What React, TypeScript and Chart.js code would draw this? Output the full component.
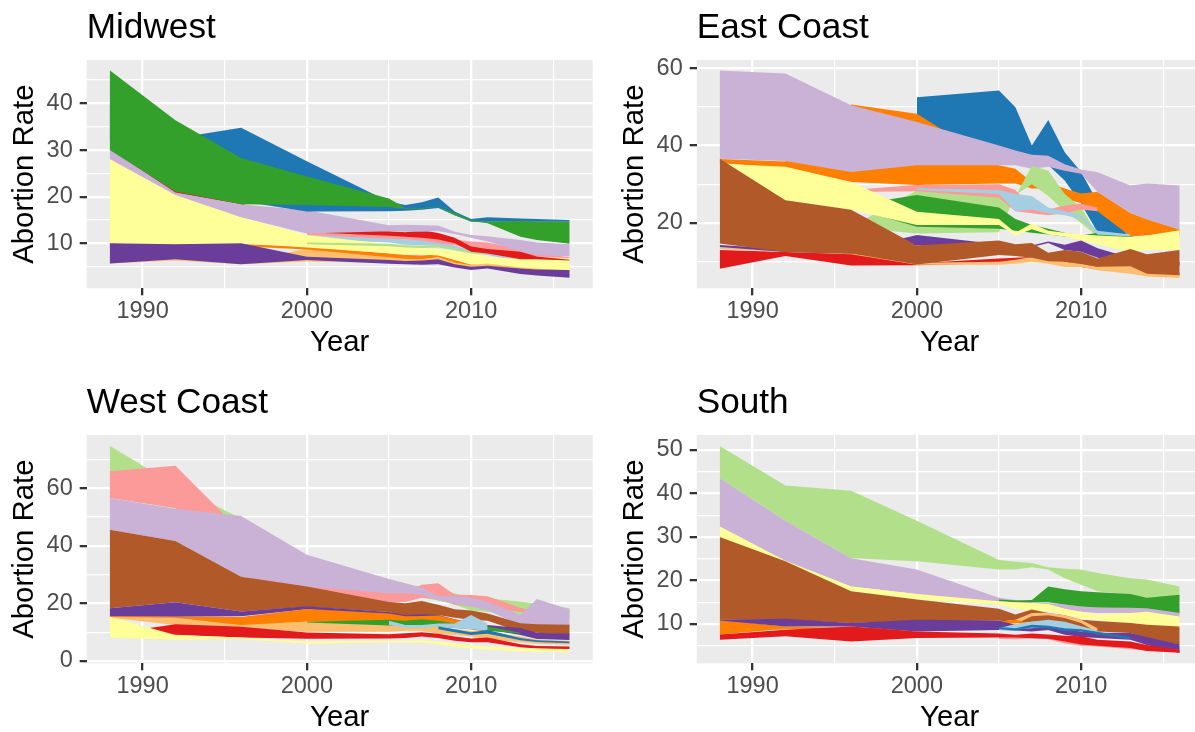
import React, { useEffect, useRef } from "react";
import { Chart, registerables } from "chart.js";

Chart.register(...registerables);

const N = null;

// ---------- shared x data ----------
const YEARS = [1988, 1992, 1996, 2000, 2005, 2006, 2007, 2008, 2009, 2010, 2011, 2013, 2014, 2016];
const X_MAJOR = [1990, 2000, 2010];
const X_MINOR = [1995, 2005, 2015];
const X_LIMITS = [1986.6, 2017.4];

// ---------- Midwest ----------
const MW_LORANGE_HI = [6.1, 7.0, 5.9, 8.9, 7.8, 7.0, 6.6, 6.9, 6.0, 5.9, 6.0, 5.0, 4.8, 4.6];
const MW_LORANGE_LO = [5.7, 6.3, 5.5, 6.1, 5.8, 5.7, 5.8, 6.0, 5.3, 4.8, 4.9, 4.3, 4.2, 4.0];
const MW_ORANGE_HI = [9.9, 9.7, 9.8, 9.3, 7.8, 7.5, 7.4, 7.6, 6.4, 5.8, 6.6, 6.0, 5.5, 5.0];
const MW_ORANGE_LO = [9.5, 9.3, 9.4, 8.7, 7.0, 6.7, 6.6, 7.0, 5.9, 5.3, 6.1, 5.6, 5.1, 4.7];
const MW_LBLUE_HI = [N, N, N, 11.8, 11.2, 10.9, 10.8, 10.6, 9.5, 8.5, 8.0, 6.5, 6.3, 6.0];
const MW_LBLUE_LO = [N, N, N, 11.0, 10.2, 9.7, 9.6, 9.5, 8.8, 7.9, 7.5, 6.0, 5.8, 5.5];
const MW_YELLOW_HI = [28.1, 20.4, 15.6, 11.8, 9.8, 9.2, 9.0, 8.8, 8.3, 7.85, 7.1, 6.6, 6.8, 7.1];
const MW_YELLOW_LO = [10.0, 9.8, 10.0, 9.1, 7.9, 7.6, 7.6, 7.4, 6.4, 5.4, 5.7, 4.8, 4.6, 4.1];
const MW_LGREEN_HI = [N, N, N, 10.2, 9.9, 9.6, 9.5, 9.6, 9.0, 8.2, 8.0, N, N, N];
const MW_LGREEN_LO = [N, N, N, 9.8, 9.4, 9.1, 9.0, 9.1, 8.5, 7.8, 7.6, N, N, N];
const MW_PURPLE_HI = [10.0, 9.8, 10.0, 7.1, 6.4, 6.2, 6.3, 6.6, 5.5, 5.0, 5.2, 4.6, 4.4, 4.3];
const MW_PURPLE_LO = [5.7, 6.6, 5.5, 6.4, 5.6, 5.5, 5.4, 5.5, 4.8, 4.3, 4.6, 3.4, 3.1, 2.6];
const MW_PINK_HI = [N, N, N, 12.4, 11.8, 11.6, 11.4, 11.0, 10.8, 10.4, 10.2, 8.8, 8.0, 7.0];
const MW_PINK_LO = [N, N, N, 11.8, 11.0, 10.9, 10.6, 10.0, 9.6, 8.8, 8.4, 7.5, 7.2, 6.8];
const MW_RED_HI = [30.3, 21.5, 18.6, 13.0, 12.6, 12.4, 12.8, 12.2, 11.2, 9.3, 8.8, 8.2, 7.2, 6.5];
const MW_RED_LO = [30.0, 20.8, 18.3, 12.4, 11.6, 11.4, 11.2, 10.8, 10.0, 8.2, 7.8, 6.6, 6.6, 6.3];
const MW_LAV_HI = [30.2, 20.9, 18.4, 17.1, 13.9, 14.0, 13.9, 13.8, 12.5, 11.8, 11.5, 10.7, 10.2, 9.8];
const MW_LAV_LO = [28.1, 20.35, 15.6, 12.1, 12.6, 12.5, 12.5, 12.6, 12.0, 11.2, 10.4, 8.3, 7.5, 7.2];
const MW_BLUE_HI = [40.0, 32.5, 34.8, 27.6, 18.9, 18.2, 18.8, 19.8, 16.8, 15.2, 15.6, 15.3, 15.2, 15.0];
const MW_BLUE_LO = [32.0, 22.0, 19.0, 16.8, 16.9, 17.0, 17.2, 17.6, 16.0, 14.6, 14.6, 14.6, 14.6, 14.6];
const MW_GREEN_HI = [47.1, 36.4, 28.3, 24.3, 19.6, 17.6, 17.6, 17.9, 16.5, 15.0, 14.6, 14.8, 14.7, 14.6];
const MW_GREEN_LO = [30.0, 21.1, 18.4, 18.2, 17.8, 17.4, 17.4, 17.8, 16.0, 14.8, 14.3, 11.4, 10.7, 9.9];
const MW_Y_MAJOR = [10, 20, 30, 40];
const MW_Y_MINOR = [5, 15, 25, 35, 45];
const MW_Y_LIMITS = [0.36, 49.3];

// ---------- East Coast ----------
const EC_BLUE_HI = [N, N, N, 52.5, 54.2, 49.9, 40.0, 46.6, 38.3, 33.2, 25.4, 16.2, N, N];
const EC_BLUE_LO = [N, N, N, 46.0, 39.0, 38.0, 36.0, 35.0, 31.0, 25.0, 17.6, 16.0, N, N];
const EC_ORANGE_HI = [36.5, 35.9, 50.6, 48.2, 34.9, 34.0, 30.6, 30.4, 28.9, 27.6, 28.1, 22.6, 21.0, 18.3];
const EC_ORANGE_LO = [35.5, 34.2, 30.6, 29.8, 30.2, 30.2, 28.9, 28.9, 26.3, 25.1, 23.0, 16.6, 16.8, 16.8];
const EC_LAV_HI = [59.4, 58.6, 50.4, 46.1, 40.0, 38.7, 37.6, 37.4, 35.2, 33.8, 33.1, 29.7, 30.2, 29.7];
const EC_LAV_LO = [36.6, 36.0, 33.2, 34.9, 34.9, 34.9, 34.0, 34.5, 33.5, 32.7, 28.0, 22.6, 20.9, 18.3];
const EC_LGREEN_HI = [N, N, 19.0, 28.4, 28.6, 26.8, 34.8, 33.5, 27.5, 24.0, 17.0, N, N, N];
const EC_LGREEN_LO = [N, N, 18.9, 17.3, 17.6, 27.2, 30.0, 27.0, 23.0, 20.0, 16.5, N, N, N];
const EC_GREEN_HI = [N, N, 24.5, 27.2, 24.0, 21.0, 19.5, 18.5, 17.5, 16.8, 17.5, 16.6, 16.0, N];
const EC_GREEN_LO = [N, N, 24.0, 19.0, 18.5, 18.0, 17.5, 17.0, 16.5, 15.8, 16.5, 15.8, 15.5, N];
const EC_PINK_HI = [N, N, 28.5, 29.8, 30.0, 28.5, 24.0, 23.5, 24.5, 25.0, 24.0, N, N, N];
const EC_PINK_LO = [N, N, 28.0, 28.2, 26.5, 23.0, 22.5, 22.0, 22.5, 23.5, 23.0, N, N, N];
const EC_LBLUE_HI = [N, N, N, 29.0, 28.5, 27.5, 27.0, 24.0, 23.0, 22.0, 18.0, 17.0, N, N];
const EC_LBLUE_LO = [N, N, N, 28.5, 27.5, 23.0, 23.5, 22.5, 22.0, 21.0, 17.0, 16.5, N, N];
const EC_YELLOW_HI = [35.3, 34.5, 30.6, 22.9, 21.0, 17.5, 19.9, 18.0, 17.5, 17.0, 16.8, 16.4, 16.8, 18.1];
const EC_YELLOW_LO = [34.8, 25.9, 23.4, 19.5, 19.5, 16.8, 18.4, 17.0, 16.5, 15.5, 14.5, 12.5, 13.0, 13.0];
const EC_RED_HI = [13.0, 12.5, 12.1, 9.6, 10.8, 11.0, 11.2, 10.8, 10.2, 9.4, 8.8, 8.5, 7.8, 7.0];
const EC_RED_LO = [8.2, 11.5, 9.0, 9.1, 9.6, 10.0, 10.2, 10.0, 9.2, 8.6, 8.0, 7.5, 7.0, 6.5];
const EC_LORANGE_HI = [13.8, 13.0, 12.3, 9.7, 10.0, 10.5, 11.2, 11.5, 10.0, 9.5, 8.7, 9.5, 8.0, 7.3];
const EC_LORANGE_LO = [13.3, 12.5, 11.9, 9.2, 9.2, 9.5, 10.0, 9.5, 8.6, 8.6, 7.8, 6.9, 6.2, 5.8];
const EC_PURPLE_HI = [14.3, 13.2, 12.8, 16.9, 14.5, 13.5, 14.2, 15.2, 14.4, 15.5, 13.5, 11.0, 10.5, 10.0];
const EC_PURPLE_LO = [13.8, 12.5, 12.1, 14.2, 13.5, 12.9, 13.8, 14.8, 13.0, 12.6, 11.0, 10.0, 9.5, 9.0];
const EC_BROWN_HI = [36.6, 25.9, 23.4, 14.2, 15.5, 14.5, 14.8, 12.3, 13.0, 12.6, 10.8, 13.3, 11.9, 13.0];
const EC_BROWN_LO = [14.7, 12.5, 12.1, 9.3, 11.7, 11.5, 11.0, 10.1, 10.0, 9.4, 8.7, 8.8, 6.9, 6.5];
const EC_Y_MAJOR = [20, 40, 60];
const EC_Y_MINOR = [10, 30, 50];
const EC_Y_LIMITS = [3.13, 62.1];

// ---------- West Coast ----------
const WC_LGREEN_HI = [74.8, 61.0, 49.5, 36.0, 28.0, 26.0, 25.5, 25.0, 23.5, 22.0, 21.8, 20.6, 20.0, 18.3];
const WC_LGREEN_LO = [65.9, 58.0, 45.0, 34.0, 24.5, 23.0, 22.0, 21.0, 19.5, 17.5, 17.0, 16.0, 16.0, 16.0];
const WC_PINK_HI = [65.9, 67.8, 45.0, 30.0, 24.6, 24.0, 26.5, 27.0, 23.0, 22.9, 22.5, 18.5, 17.0, 16.0];
const WC_PINK_LO = [56.6, 53.1, 29.5, 24.0, 20.3, 20.5, 22.0, 21.5, 19.5, 19.0, 18.5, 17.0, 16.0, 15.0];
const WC_LAV_HI = [56.6, 52.9, 50.4, 36.9, 28.5, 27.0, 25.5, 22.5, 22.5, 22.0, 20.6, 16.0, 21.5, 17.9];
const WC_LAV_LO = [45.6, 41.7, 29.3, 25.9, 23.5, 23.5, 23.0, 21.0, 20.0, 18.8, 17.5, 12.5, 12.0, 12.0];
const WC_BROWN_HI = [45.6, 41.7, 29.3, 25.9, 20.5, 20.1, 20.8, 19.5, 18.0, 17.5, 16.5, 13.1, 12.8, 12.6];
const WC_BROWN_LO = [18.3, 20.4, 17.2, 18.8, 17.0, 15.5, 15.8, 16.0, 15.0, 14.3, 14.0, 10.2, 9.8, 9.1];
const WC_PURPLE_HI = [18.3, 20.4, 17.2, 19.0, 17.0, 16.0, 16.2, 16.0, 14.5, 13.5, 12.5, 11.5, 9.8, 9.5];
const WC_PURPLE_LO = [15.4, 15.4, 15.5, 18.0, 15.5, 14.5, 14.5, 14.3, 13.3, 12.0, 11.0, 9.0, 7.6, 7.3];
const WC_ORANGE_HI = [15.6, 15.4, 15.3, 18.1, 16.5, 15.5, 15.6, 15.8, 14.4, 13.5, 12.5, N, N, N];
const WC_ORANGE_LO = [15.2, 14.2, 12.2, 13.5, 13.0, 13.0, 13.0, 12.8, 12.0, 11.0, 10.0, N, N, N];
const WC_LORANGE_HI = [15.3, 15.0, 12.5, 13.7, 13.7, 13.0, 13.5, 12.0, 11.0, 10.5, 10.0, 8.5, 7.5, 7.0];
const WC_LORANGE_LO = [15.0, 12.5, 11.4, 10.2, 10.2, 10.5, 10.5, 9.5, 9.0, 8.5, 7.5, 6.5, 6.0, 5.6];
const WC_GREEN_HI = [N, N, N, 13.6, 14.3, 14.0, 14.5, 14.0, 13.0, 12.5, 12.0, 9.8, N, N];
const WC_GREEN_LO = [N, N, N, 13.4, 12.3, 12.2, 12.5, 12.0, 11.5, 11.0, 10.5, 9.5, N, N];
const WC_LBLUE_HI = [N, N, N, N, 14.0, 12.5, 12.5, 13.0, 13.0, 16.0, 13.0, N, N, N];
const WC_LBLUE_LO = [N, N, N, N, 12.5, 11.5, 11.5, 12.0, 11.5, 11.0, 10.5, N, N, N];
const WC_BLUE_HI = [N, N, N, N, N, N, N, 12.0, 11.0, 10.0, 10.8, 8.0, 7.2, 6.8];
const WC_BLUE_LO = [N, N, N, N, N, N, N, 11.0, 10.0, 9.0, 9.5, 7.2, 6.6, 6.2];
const WC_RED_HI = [9.5, 12.8, 11.9, 9.9, 9.3, 9.6, 10.0, 9.5, 8.5, 7.8, 8.2, 5.8, 5.2, 5.0];
const WC_RED_LO = [9.0, 9.1, 8.2, 7.7, 7.8, 8.0, 8.5, 8.0, 7.0, 6.5, 6.5, 4.8, 4.3, 4.2];
const WC_YELLOW_HI = [15.4, 9.0, 8.2, 6.8, 7.0, 7.0, 7.2, 6.8, 6.0, 5.5, 5.0, 4.5, 4.3, 4.0];
const WC_YELLOW_LO = [8.1, 7.4, 7.6, 6.0, 6.4, 6.4, 6.4, 5.8, 4.9, 4.4, 4.0, 3.4, 3.2, 3.0];
const WC_Y_MAJOR = [0, 20, 40, 60];
const WC_Y_MINOR = [10, 30, 50, 70];
const WC_Y_LIMITS = [-0.8, 78.5];

// ---------- South ----------
const SO_LGREEN_HI = [50.9, 41.8, 40.6, 33.7, 24.7, 24.3, 24.0, 23.0, 22.7, 22.5, 21.7, 20.5, 20.2, 18.6];
const SO_LGREEN_LO = [43.5, 33.7, 25.1, 24.4, 22.5, 22.5, 23.0, 22.5, 20.5, 19.0, 17.5, 16.7, 16.0, 16.0];
const SO_LAV_HI = [43.5, 33.7, 25.1, 22.5, 16.0, 15.5, 15.0, 14.8, 14.5, 14.0, 13.8, 14.0, 14.2, 13.3];
const SO_LAV_LO = [32.4, 24.4, 18.6, 16.9, 14.5, 14.5, 14.0, 13.8, 13.0, 12.8, 12.5, 12.5, 12.0, 11.5];
const SO_GREEN_HI = [N, N, N, N, 15.6, 15.4, 15.5, 18.6, 18.0, 17.5, 17.3, 16.9, 16.0, 16.7];
const SO_GREEN_LO = [N, N, N, N, 15.2, 15.0, 15.0, 15.0, 14.5, 14.0, 13.8, 13.7, 13.6, 12.5];
const SO_YELLOW_HI = [32.4, 24.5, 18.6, 16.9, 15.2, 15.0, 14.8, 14.6, 13.5, 12.8, 12.2, 12.5, 12.8, 11.7];
const SO_YELLOW_LO = [29.7, 24.0, 17.5, 15.6, 14.4, 13.5, 13.0, 13.0, 12.2, 11.3, 11.0, 9.9, 9.6, 9.0];
const SO_BROWN_HI = [30.0, 24.4, 17.5, 15.6, 13.5, 12.2, 13.3, 12.5, 12.0, 11.0, 10.7, 10.2, 9.8, 9.4];
const SO_BROWN_LO = [11.0, 11.0, 10.2, 10.6, 10.8, 10.2, 10.5, 10.6, 10.0, 8.7, 8.3, 7.9, 6.8, 5.25];
const SO_LORANGE_HI = [9.0, 9.4, 9.2, 9.0, 10.5, 11.0, 12.5, 12.6, 12.0, 11.0, 9.0, N, N, N];
const SO_LORANGE_LO = [8.6, 8.7, 8.6, 8.5, 9.5, 10.0, 11.8, 12.0, 11.4, 10.2, 8.0, N, N, N];
const SO_ORANGE_HI = [11.0, 9.4, 9.0, 9.0, 10.5, 11.0, 10.0, 11.0, 10.0, 9.0, 8.5, N, N, N];
const SO_ORANGE_LO = [7.6, 8.9, 8.5, 8.5, 9.8, 10.3, 9.5, 10.4, 9.3, 8.4, 8.0, N, N, N];
const SO_PURPLE_HI = [11.0, 11.2, 10.2, 11.0, 10.8, 9.8, 9.5, 9.5, 8.8, 8.3, 8.0, 7.9, 7.0, 5.3];
const SO_PURPLE_LO = [10.8, 9.4, 9.4, 8.3, 8.6, 8.5, 8.3, 8.6, 7.5, 7.0, 6.8, 6.4, 5.2, 3.35];
const SO_LBLUE_HI = [N, N, N, N, 9.0, 10.0, 10.5, 11.0, 10.5, 9.5, 8.5, N, N, N];
const SO_LBLUE_LO = [N, N, N, N, 8.5, 8.8, 9.0, 9.5, 9.0, 8.5, 7.8, N, N, N];
const SO_BLUE_HI = [N, N, N, N, 9.3, 9.0, 9.8, 9.6, 9.0, 8.8, 8.2, 7.0, N, N];
const SO_BLUE_LO = [N, N, N, N, 8.8, 8.5, 9.2, 9.0, 8.4, 8.3, 7.6, 6.5, N, N];
const SO_PINK_HI = [N, N, N, N, 7.0, 7.0, 7.2, 7.0, 6.5, 6.5, 6.0, 5.0, 4.6, 4.0];
const SO_PINK_LO = [N, N, N, N, 6.6, 6.5, 6.7, 6.5, 5.5, 5.0, 4.8, 4.2, 3.9, 3.5];
const SO_RED_HI = [7.6, 8.7, 9.4, 8.3, 7.8, 7.5, 7.8, 7.6, 7.3, 7.2, 6.4, 6.0, 5.2, 4.1];
const SO_RED_LO = [6.4, 7.2, 6.0, 6.8, 6.9, 6.9, 6.7, 6.6, 6.0, 5.3, 5.0, 4.5, 3.8, 3.4];
const SO_Y_MAJOR = [10, 20, 30, 40, 50];
const SO_Y_MINOR = [5, 15, 25, 35, 45];
const SO_Y_LIMITS = [0.97, 53.4];

// ---------- palette (RColorBrewer "Paired") ----------
const PAIRED = {
  lightBlue: "#A6CEE3",
  blue: "#1F78B4",
  lightGreen: "#B2DF8A",
  green: "#33A02C",
  pink: "#FB9A99",
  red: "#E31A1C",
  lightOrange: "#FDBF6F",
  orange: "#FF7F00",
  lavender: "#CAB2D6",
  purple: "#6A3D9A",
  yellow: "#FFFF99",
  brown: "#B15928",
};

type Vals = (number | null)[];
type Band = { color: string; hi: Vals; lo: Vals };

// bands listed bottom (drawn first) -> top (drawn last)
const MIDWEST_BANDS: Band[] = [
  { color: PAIRED.lightOrange, hi: MW_LORANGE_HI, lo: MW_LORANGE_LO },
  { color: PAIRED.orange, hi: MW_ORANGE_HI, lo: MW_ORANGE_LO },
  { color: PAIRED.lightBlue, hi: MW_LBLUE_HI, lo: MW_LBLUE_LO },
  { color: PAIRED.yellow, hi: MW_YELLOW_HI, lo: MW_YELLOW_LO },
  { color: PAIRED.lightGreen, hi: MW_LGREEN_HI, lo: MW_LGREEN_LO },
  { color: PAIRED.purple, hi: MW_PURPLE_HI, lo: MW_PURPLE_LO },
  { color: PAIRED.pink, hi: MW_PINK_HI, lo: MW_PINK_LO },
  { color: PAIRED.red, hi: MW_RED_HI, lo: MW_RED_LO },
  { color: PAIRED.lavender, hi: MW_LAV_HI, lo: MW_LAV_LO },
  { color: PAIRED.blue, hi: MW_BLUE_HI, lo: MW_BLUE_LO },
  { color: PAIRED.green, hi: MW_GREEN_HI, lo: MW_GREEN_LO },
];

const EAST_BANDS: Band[] = [
  { color: PAIRED.blue, hi: EC_BLUE_HI, lo: EC_BLUE_LO },
  { color: PAIRED.orange, hi: EC_ORANGE_HI, lo: EC_ORANGE_LO },
  { color: PAIRED.lavender, hi: EC_LAV_HI, lo: EC_LAV_LO },
  { color: PAIRED.lightGreen, hi: EC_LGREEN_HI, lo: EC_LGREEN_LO },
  { color: PAIRED.green, hi: EC_GREEN_HI, lo: EC_GREEN_LO },
  { color: PAIRED.pink, hi: EC_PINK_HI, lo: EC_PINK_LO },
  { color: PAIRED.lightBlue, hi: EC_LBLUE_HI, lo: EC_LBLUE_LO },
  { color: PAIRED.yellow, hi: EC_YELLOW_HI, lo: EC_YELLOW_LO },
  { color: PAIRED.red, hi: EC_RED_HI, lo: EC_RED_LO },
  { color: PAIRED.lightOrange, hi: EC_LORANGE_HI, lo: EC_LORANGE_LO },
  { color: PAIRED.purple, hi: EC_PURPLE_HI, lo: EC_PURPLE_LO },
  { color: PAIRED.brown, hi: EC_BROWN_HI, lo: EC_BROWN_LO },
];

const WEST_BANDS: Band[] = [
  { color: PAIRED.lightGreen, hi: WC_LGREEN_HI, lo: WC_LGREEN_LO },
  { color: PAIRED.pink, hi: WC_PINK_HI, lo: WC_PINK_LO },
  { color: PAIRED.lavender, hi: WC_LAV_HI, lo: WC_LAV_LO },
  { color: PAIRED.brown, hi: WC_BROWN_HI, lo: WC_BROWN_LO },
  { color: PAIRED.purple, hi: WC_PURPLE_HI, lo: WC_PURPLE_LO },
  { color: PAIRED.orange, hi: WC_ORANGE_HI, lo: WC_ORANGE_LO },
  { color: PAIRED.lightOrange, hi: WC_LORANGE_HI, lo: WC_LORANGE_LO },
  { color: PAIRED.green, hi: WC_GREEN_HI, lo: WC_GREEN_LO },
  { color: PAIRED.lightBlue, hi: WC_LBLUE_HI, lo: WC_LBLUE_LO },
  { color: PAIRED.blue, hi: WC_BLUE_HI, lo: WC_BLUE_LO },
  { color: PAIRED.red, hi: WC_RED_HI, lo: WC_RED_LO },
  { color: PAIRED.yellow, hi: WC_YELLOW_HI, lo: WC_YELLOW_LO },
];

const SOUTH_BANDS: Band[] = [
  { color: PAIRED.lightGreen, hi: SO_LGREEN_HI, lo: SO_LGREEN_LO },
  { color: PAIRED.lavender, hi: SO_LAV_HI, lo: SO_LAV_LO },
  { color: PAIRED.green, hi: SO_GREEN_HI, lo: SO_GREEN_LO },
  { color: PAIRED.yellow, hi: SO_YELLOW_HI, lo: SO_YELLOW_LO },
  { color: PAIRED.brown, hi: SO_BROWN_HI, lo: SO_BROWN_LO },
  { color: PAIRED.lightOrange, hi: SO_LORANGE_HI, lo: SO_LORANGE_LO },
  { color: PAIRED.orange, hi: SO_ORANGE_HI, lo: SO_ORANGE_LO },
  { color: PAIRED.purple, hi: SO_PURPLE_HI, lo: SO_PURPLE_LO },
  { color: PAIRED.lightBlue, hi: SO_LBLUE_HI, lo: SO_LBLUE_LO },
  { color: PAIRED.blue, hi: SO_BLUE_HI, lo: SO_BLUE_LO },
  { color: PAIRED.pink, hi: SO_PINK_HI, lo: SO_PINK_LO },
  { color: PAIRED.red, hi: SO_RED_HI, lo: SO_RED_LO },
];

// ---------- layout / style ----------
const FONT = '"Liberation Sans", Arial, Helvetica, sans-serif';
Chart.defaults.font.family = FONT;
Chart.defaults.color = "#000000";

const W = 610;
const H = 375;
const AREA = { left: 86.7, right: 592.7, top: 60, bottom: 288.3 };
const PANEL_BG = "#EBEBEB";
const GRID_MAJOR_W = 2.3;
const GRID_MINOR_W = 1.15;

const bgPlugin = {
  id: "panelBg",
  beforeDraw(chart: any) {
    const { ctx, chartArea } = chart;
    ctx.save();
    ctx.fillStyle = PANEL_BG;
    ctx.fillRect(chartArea.left, chartArea.top, chartArea.right - chartArea.left, chartArea.bottom - chartArea.top);
    ctx.restore();
  },
};

const titlePlugin = {
  id: "panelTitle",
  afterDraw(chart: any, _args: any, opts: any) {
    const { ctx, chartArea } = chart;
    ctx.save();
    ctx.font = `35.2px ${FONT}`;
    ctx.fillStyle = "#000000";
    ctx.textAlign = "left";
    ctx.textBaseline = "alphabetic";
    ctx.fillText(opts.text, chartArea.left, 38.3);
    ctx.restore();
  },
};

function toPoints(vals: Vals) {
  return YEARS.map((x, i) => ({ x, y: vals[i] }));
}

function buildDatasets(bands: Band[]) {
  const ds: any[] = [];
  const n = bands.length;
  bands.forEach((b, k) => {
    const loIndex = ds.length;
    const common = {
      borderColor: "rgba(0,0,0,0)",
      borderWidth: 0,
      pointRadius: 0,
      pointHoverRadius: 0,
      tension: 0,
      spanGaps: false,
      order: n - k,
    };
    ds.push({ ...common, data: toPoints(b.lo), fill: false });
    ds.push({ ...common, data: toPoints(b.hi), backgroundColor: b.color, fill: loIndex });
  });
  return ds;
}

function gridFor(major: number[]) {
  const isMajor = (c: any) => !!c.tick && major.includes(c.tick.value);
  return {
    color: "#FFFFFF",
    lineWidth: (c: any) => (isMajor(c) ? GRID_MAJOR_W : GRID_MINOR_W),
    tickColor: (c: any) => (isMajor(c) ? "#333333" : "rgba(0,0,0,0)"),
    tickWidth: GRID_MAJOR_W,
    tickLength: 7,
    drawTicks: true,
    offset: false,
  };
}

function makeScales(yLimits: number[], yMajor: number[], yMinor: number[]) {
  const allX = [...X_MAJOR, ...X_MINOR].sort((a, b) => a - b);
  const allY = [...yMajor, ...yMinor].sort((a, b) => a - b);
  return {
    x: {
      type: "linear",
      bounds: "data",
      min: X_LIMITS[0],
      max: X_LIMITS[1],
      afterBuildTicks: (s: any) => {
        s.ticks = allX.map((v) => ({ value: v }));
      },
      afterFit: (s: any) => {
        s.height = H - AREA.bottom;
      },
      ticks: {
        autoSkip: false,
        maxRotation: 0,
        minRotation: 0,
        padding: 2,
        color: "#4D4D4D",
        font: { size: 23.5 },
        callback: (v: any) => (X_MAJOR.includes(v) ? String(v) : ""),
      },
      grid: gridFor(X_MAJOR),
      border: { display: false },
      title: {
        display: true,
        text: "Year",
        color: "#000000",
        font: { size: 29.3 },
        padding: { top: 0, bottom: 14.9 },
      },
    },
    y: {
      type: "linear",
      bounds: "data",
      min: yLimits[0],
      max: yLimits[1],
      afterBuildTicks: (s: any) => {
        s.ticks = allY.map((v) => ({ value: v }));
      },
      afterFit: (s: any) => {
        s.width = AREA.left;
      },
      ticks: {
        autoSkip: false,
        padding: 7,
        color: "#4D4D4D",
        font: { size: 23.5 },
        callback: (v: any) => (yMajor.includes(v) ? String(v) : ""),
      },
      grid: gridFor(yMajor),
      border: { display: false },
      title: {
        display: true,
        text: "Abortion Rate",
        color: "#000000",
        font: { size: 29.3 },
        padding: { top: 7.2, bottom: 0 },
      },
    },
  };
}

type PanelProps = {
  title: string;
  bands: Band[];
  yLimits: number[];
  yMajor: number[];
  yMinor: number[];
  left: number;
  top: number;
};

function Panel({ title, bands, yLimits, yMajor, yMinor, left, top }: PanelProps) {
  const ref = useRef<HTMLCanvasElement | null>(null);
  useEffect(() => {
    if (!ref.current) return;
    const chart = new Chart(ref.current, {
      type: "line",
      data: { datasets: buildDatasets(bands) },
      options: {
        responsive: false,
        animation: false,
        devicePixelRatio: 1,
        events: [],
        layout: { padding: { top: AREA.top, right: W - AREA.right, left: 0, bottom: 0 } },
        plugins: {
          legend: { display: false },
          tooltip: { enabled: false },
          filler: { propagate: false },
          panelTitle: { text: title },
        } as any,
        scales: makeScales(yLimits, yMajor, yMinor) as any,
      },
      plugins: [bgPlugin, titlePlugin],
    } as any);
    return () => chart.destroy();
  }, []);
  return (
    <canvas
      ref={ref}
      width={W}
      height={H}
      style={{ position: "absolute", left, top, width: W, height: H }}
    />
  );
}

export default function App() {
  return (
    <div
      style={{
        position: "fixed",
        left: 0,
        top: 0,
        width: 1195,
        height: 732,
        overflow: "hidden",
        background: "#FFFFFF",
      }}
    >
      <Panel title="Midwest" bands={MIDWEST_BANDS} yLimits={MW_Y_LIMITS} yMajor={MW_Y_MAJOR} yMinor={MW_Y_MINOR} left={0} top={0} />
      <Panel title="East Coast" bands={EAST_BANDS} yLimits={EC_Y_LIMITS} yMajor={EC_Y_MAJOR} yMinor={EC_Y_MINOR} left={610} top={0} />
      <Panel title="West Coast" bands={WEST_BANDS} yLimits={WC_Y_LIMITS} yMajor={WC_Y_MAJOR} yMinor={WC_Y_MINOR} left={0} top={375} />
      <Panel title="South" bands={SOUTH_BANDS} yLimits={SO_Y_LIMITS} yMajor={SO_Y_MAJOR} yMinor={SO_Y_MINOR} left={610} top={375} />
    </div>
  );
}
